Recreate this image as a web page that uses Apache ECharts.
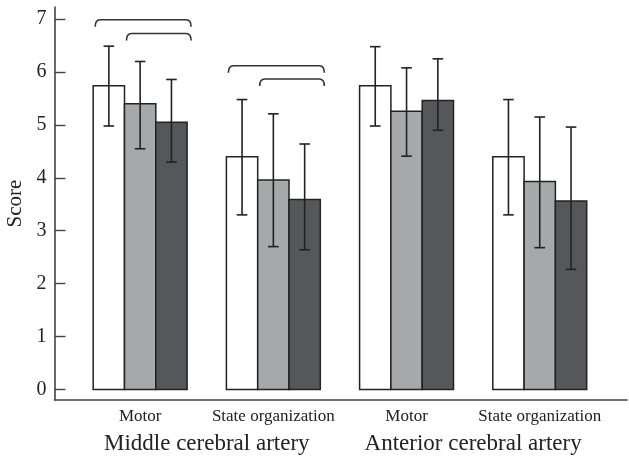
<!DOCTYPE html>
<html>
<head>
<meta charset="utf-8">
<script src="https://cdn.jsdelivr.net/npm/echarts@6/dist/echarts.min.js"></script>
<style>
  html, body { margin: 0; padding: 0; background: #fff; }
  #chart { width: 629px; height: 459px; }
</style>
</head>
<body>
<div id="chart"></div>
<script>
// Outcome scores by artery territory and domain, three groups per domain
const categories = ['Motor', 'State organization', 'Motor', 'State organization'];
const regions = ['Middle cerebral artery', 'Anterior cerebral artery'];
const yTicks = [0, 1, 2, 3, 4, 5, 6, 7];

const group1Mean = [5.74, 4.40, 5.74, 4.40];
const group1Low  = [4.98, 3.30, 4.98, 3.30];
const group1High = [6.49, 5.48, 6.48, 5.48];

const group2Mean = [5.40, 3.96, 5.26, 3.93];
const group2Low  = [4.55, 2.70, 4.41, 2.68];
const group2High = [6.20, 5.21, 6.08, 5.15];

const group3Mean = [5.05, 3.59, 5.46, 3.56];
const group3Low  = [4.30, 2.64, 4.90, 2.27];
const group3High = [5.86, 4.64, 6.25, 4.96];

// significance brackets: [category, first bar, last bar, height]
const brackets = [
  [0, 0, 2, 6.99],
  [0, 1, 2, 6.73],
  [1, 0, 2, 6.12],
  [1, 1, 2, 5.87]
];

const fills = ['#ffffff', '#a7a8ab', '#55575a'];
const BAR_W = 0.235;          // bar width in category units
const FONT = "'Liberation Serif', 'DejaVu Serif', serif";
const INK = '#222';

function barCenter(cat, idx) { return cat + (idx - 1) * BAR_W; }

function makeSeries(idx, mean, low, high) {
  const data = mean.map((m, i) => [i, m, low[i], high[i]]);
  return {
    type: 'custom',
    name: 'Group ' + (idx + 1),
    data: data,
    encode: { x: 0, y: [1, 2, 3] },
    z: 2,
    renderItem: function (params, api) {
      const cat = api.value(0);
      const cx = barCenter(cat, idx);
      const p0 = api.coord([cx - BAR_W / 2, 0]);
      const p1 = api.coord([cx + BAR_W / 2, api.value(1)]);
      const lo = api.coord([cx, api.value(2)]);
      const hi = api.coord([cx, api.value(3)]);
      const cap = 5.3;
      return {
        type: 'group',
        children: [
          {
            type: 'rect',
            shape: { x: p0[0], y: p1[1], width: p1[0] - p0[0], height: p0[1] - p1[1] },
            style: { fill: fills[idx], stroke: INK, lineWidth: 1.5 }
          },
          {
            type: 'polyline',
            shape: { points: [[lo[0], lo[1]], [hi[0], hi[1]]] },
            style: { stroke: INK, lineWidth: 1.6, fill: null }
          },
          {
            type: 'line',
            shape: { x1: hi[0] - cap, y1: hi[1], x2: hi[0] + cap, y2: hi[1] },
            style: { stroke: INK, lineWidth: 1.6 }
          },
          {
            type: 'line',
            shape: { x1: lo[0] - cap, y1: lo[1], x2: lo[0] + cap, y2: lo[1] },
            style: { stroke: INK, lineWidth: 1.6 }
          }
        ]
      };
    }
  };
}

const bracketSeries = {
  type: 'custom',
  name: 'Comparisons',
  data: brackets,
  encode: { x: 0, y: 3 },
  z: 3,
  renderItem: function (params, api) {
    const cat = api.value(0);
    const from = api.value(1), to = api.value(2);
    const left = api.coord([barCenter(cat, from) - BAR_W / 2, api.value(3)]);
    const right = api.coord([barCenter(cat, to) + BAR_W / 2, api.value(3)]);
    const x1 = left[0] + 2, x2 = right[0] + 4, y = left[1];
    const r = 5, drop = 7;
    const d = 'M' + x1 + ',' + (y + drop) +
      ' Q' + x1 + ',' + y + ' ' + (x1 + r) + ',' + y +
      ' L' + (x2 - r) + ',' + y +
      ' Q' + x2 + ',' + y + ' ' + x2 + ',' + (y + drop);
    return {
      type: 'path',
      shape: { pathData: d },
      style: { stroke: '#333', lineWidth: 1.6, fill: null }
    };
  }
};

const chart = echarts.init(document.getElementById('chart'), null, { renderer: 'canvas' });
chart.setOption({
  animation: false,
  backgroundColor: '#fff',
  grid: {
    left: 54.5, right: 2, top: 7, bottom: 59,
    containLabel: false,
    outerBoundsMode: 'none'
  },
  xAxis: [
    {
      type: 'value',
      min: -0.643, max: 3.655,
      splitLine: { show: false },
      axisLine: { show: true, onZero: false, lineStyle: { color: '#444', width: 1.6 } },
      axisTick: { show: false },
      axisLabel: {
        customValues: [0, 1, 2, 3],
        formatter: v => categories[Math.round(v)],
        margin: 8,
        color: INK, fontFamily: FONT, fontSize: 17
      }
    },
    {
      type: 'value',
      position: 'bottom',
      min: -0.643, max: 3.655,
      splitLine: { show: false },
      axisLine: { show: false },
      axisTick: { show: false },
      axisLabel: {
        customValues: [0.5, 2.5],
        formatter: v => regions[Math.round((v - 0.5) / 2)],
        margin: 32,
        color: INK, fontFamily: FONT, fontSize: 23
      }
    }
  ],
  yAxis: {
    type: 'value',
    min: -0.2, max: 7.23,
    name: 'Score',
    nameLocation: 'middle',
    nameGap: 26,
    nameTextStyle: { color: INK, fontFamily: FONT, fontSize: 21 },
    splitLine: { show: false },
    axisLine: { show: true, onZero: false, lineStyle: { color: '#444', width: 1.6 } },
    axisTick: {
      show: true, inside: true, length: 11,
      customValues: yTicks,
      lineStyle: { color: '#444', width: 1.4 }
    },
    axisLabel: {
      customValues: yTicks,
      margin: 8,
      color: INK, fontFamily: FONT, fontSize: 20
    }
  },
  series: [
    makeSeries(0, group1Mean, group1Low, group1High),
    makeSeries(1, group2Mean, group2Low, group2High),
    makeSeries(2, group3Mean, group3Low, group3High),
    bracketSeries
  ]
});
</script>
</body>
</html>
